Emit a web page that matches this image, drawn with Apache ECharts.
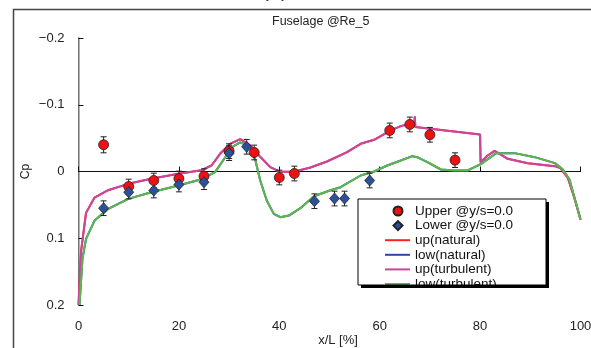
<!DOCTYPE html>
<html><head><meta charset="utf-8">
<script src="https://cdn.jsdelivr.net/npm/echarts@6/dist/echarts.min.js"></script>
<style>html,body{margin:0;padding:0;background:#fff}#c{width:591px;height:348px}</style>
</head><body><div id="c"></div>
<script>
// ---- data ----
const xTicks = [0, 20, 40, 60, 80, 100];
const yTicks = [-0.2, -0.1, 0, 0.1, 0.2];
const yTickLabels = ['\u22120.2', '\u22120.1', '0', '0.1', '0.2'];

const upperExp = [[5,-0.040],[10,0.0225],[15,0.0135],[20,0.0105],[25,0.007],[30,-0.0305],[35,-0.0285],[40,0.009],[43,0.003],[62,-0.0615],[66,-0.0705],[70,-0.055],[75,-0.017]];
const upperErr = [0.012,0.011,0.011,0.011,0.011,0.011,0.011,0.011,0.011,0.011,0.011,0.011,0.011];
const lowerExp = [[5,0.055],[10,0.031],[15,0.0285],[20,0.0195],[25,0.016],[30,-0.0275],[33.5,-0.037],[47,0.0445],[51,0.0405],[53,0.0405],[58,0.0135]];
const lowerErr = [0.011,0.010,0.011,0.011,0.011,0.011,0.011,0.011,0.011,0.011,0.011];

const upTurbulent = [[0,0.2],[0.5,0.12],[1.5,0.062],[3.2,0.039],[5.9,0.028],[9.9,0.0185],[14.5,0.011],[19.9,0.0035],[24.5,-0.002],[26.5,-0.009],[28.2,-0.0265],[30.2,-0.0415],[32.2,-0.0485],[34.2,-0.039],[36.2,-0.022],[38.2,-0.0065],[40.2,0.0005],[42.9,0.0005],[46.2,-0.006],[49.5,-0.015],[53.5,-0.029],[56.2,-0.0415],[58.9,-0.0475],[62.2,-0.0615],[64.2,-0.068],[66.2,-0.072],[66.9,-0.074],[67.0,-0.0825],[67.1,-0.0665],[80.0,-0.0555],[80.1,-0.014],[81.5,-0.024],[82.9,-0.031],[85.5,-0.019],[89.5,-0.0125],[94.9,-0.008],[96.0,-0.005],[97.5,0.01],[98.8,0.04],[100,0.072]];
const lowTurbulent = [[0.2,0.2],[0.8,0.13],[1.5,0.101],[3.2,0.0735],[5.9,0.056],[9.9,0.041],[14.5,0.031],[19.9,0.021],[24.5,0.0115],[27.2,0.001],[29.2,-0.021],[30.9,-0.038],[32.2,-0.0435],[34.2,-0.038],[35.2,-0.018],[36.2,0.0135],[37.5,0.0435],[38.9,0.0635],[40.2,0.0685],[41.9,0.066],[44.2,0.055],[46.9,0.037],[50.2,0.028],[52.2,0.0235],[56.2,0.006],[58.9,0.0],[61.5,-0.009],[64.2,-0.0165],[66.5,-0.023],[67.5,-0.0215],[69.5,-0.014],[72.2,-0.003],[74.9,-0.0015],[77.5,-0.0015],[80.2,-0.0115],[83.2,-0.0275],[86.9,-0.0275],[90.9,-0.0215],[94.9,-0.0125],[96.5,-0.003],[97.8,0.012],[98.9,0.042],[100,0.072]];
// natural-transition curves lie under the turbulent ones in the picture
const upNatural = upTurbulent;
const lowNatural = lowTurbulent;

const names = ['Upper @y/s=0.0','Lower @y/s=0.0','up(natural)','low(natural)','up(turbulent)','low(turbulent)'];
const lineColors = ['#ff2020', '#2a48a8', '#c8479c', '#5cb848'];

// ---- chart ----
const chart = echarts.init(document.getElementById('c'), null, {renderer:'canvas'});
function errItem(params, api){
  const x = api.value(0), y = api.value(1), e = api.value(2);
  const p1 = api.coord([x, y - e]), p2 = api.coord([x, y + e]);
  const w = 3, st = {stroke:'#222', lineWidth:1};
  return {type:'group', children:[
    {type:'line', shape:{x1:p1[0],y1:p1[1],x2:p2[0],y2:p2[1]}, style:st},
    {type:'line', shape:{x1:p1[0]-w,y1:p1[1],x2:p1[0]+w,y2:p1[1]}, style:st},
    {type:'line', shape:{x1:p2[0]-w,y1:p2[1],x2:p2[0]+w,y2:p2[1]}, style:st}
  ]};
}
function lineSeries(name, data, color){
  return {name, type:'line', data, symbol:'none', showSymbol:false, z:2,
    lineStyle:{color, width:2}, itemStyle:{color}, clip:true};
}
const BX = 358, BY = 199, BW = 188, BH = 86;
const ROW = 14.6, LTOP = 203.7;
const legendText = {fontSize:13.5, lineHeight:ROW, color:'#111', fontFamily:'Liberation Sans'};
chart.setOption({
  animation:false,
  textStyle:{fontFamily:'Liberation Sans', color:'#222'},
  title:{text:'Fuselage @Re_5', left:272, top:15, padding:0,
    textStyle:{fontSize:12.5, fontWeight:'normal', color:'#222', fontFamily:'Liberation Sans'}},
  grid:{left:78.5, right:10.5, top:38, bottom:43, containLabel:false, outerBoundsMode:'none'},
  legend:[
    {data:names.slice(0,2), orient:'vertical', left:392.5, top:LTOP, padding:0, itemGap:0,
      itemWidth:9, itemHeight:9, z:5, selectedMode:false,
      textStyle:Object.assign({padding:[0,0,0,7.5]}, legendText)},
    {data:names.slice(2).map((n,i)=>({name:n, icon:'rect', itemStyle:{color:lineColors[i]}})),
      orient:'vertical', left:385, top:LTOP + 2*ROW, padding:0, itemGap:0,
      itemWidth:25, itemHeight:2, z:5, selectedMode:false, textStyle:legendText}
  ],
  xAxis:[{type:'value', min:xTicks[0], max:xTicks[xTicks.length-1], interval:20,
      axisLine:{lineStyle:{color:'#111', width:1}},
      axisTick:{inside:true, length:5, lineStyle:{color:'#111'}},
      axisLabel:{margin:15, fontSize:13, color:'#222'},
      splitLine:{show:false},
      name:'x/L [%]', nameLocation:'middle', nameGap:29, nameMoveOverlap:false,
      nameTextStyle:{fontSize:13, color:'#222', padding:[0,0,0,17]}},
    {type:'value', position:'top', min:0, max:100, axisLine:{show:true, lineStyle:{color:'#111'}},
      axisTick:{show:false}, axisLabel:{show:false}, splitLine:{show:false}}],
  yAxis:[{type:'value', inverse:true, min:yTicks[0], max:yTicks[yTicks.length-1], interval:0.1,
      axisLine:{show:true, lineStyle:{color:'#111', width:1}},
      axisTick:{show:true, inside:true, length:5, lineStyle:{color:'#111'}},
      axisLabel:{margin:14, fontSize:13, color:'#222',
        formatter:v => { const i = yTicks.findIndex(t => Math.abs(t - v) < 1e-9); return i >= 0 ? yTickLabels[i] : ''; }},
      splitLine:{show:false},
      name:'Cp', nameLocation:'middle', nameGap:47, nameRotate:90, nameMoveOverlap:false,
      nameTextStyle:{fontSize:12, color:'#222'}},
    {type:'value', position:'right', inverse:true, min:-0.2, max:0.2,
      axisLine:{show:true, lineStyle:{color:'#999', width:1.5}},
      axisTick:{show:false}, axisLabel:{show:false}, splitLine:{show:false}}],
  graphic:[
    {type:'rect', shape:{x:13.5, y:9.5, width:700, height:500}, style:{fill:'none', stroke:'#444', lineWidth:1.5}, z:0, silent:true},
    {type:'text', x:275, y:-10.5, style:{text:'(a)', fontSize:22, fontFamily:'Liberation Sans', fill:'#333', align:'center', verticalAlign:'middle'}, z:0, silent:true},
    {type:'rect', shape:{x:BX+3, y:BY+3, width:BW, height:BH}, style:{fill:'#000'}, z:3, silent:true},
    {type:'rect', shape:{x:BX, y:BY, width:BW, height:BH}, style:{fill:'#fff'}, z:3, z2:1, silent:true},
    {type:'rect', shape:{x:BX-1, y:BY+BH, width:BW+6, height:12}, style:{fill:'#fff'}, z:10, silent:true},
    {type:'rect', shape:{x:BX+3, y:BY+BH, width:BW, height:3}, style:{fill:'#000'}, z:11, silent:true},
    {type:'rect', shape:{x:BX, y:BY, width:BW, height:BH}, style:{fill:'none', stroke:'#000', lineWidth:1}, z:11, silent:true}
  ],
  series:[
    lineSeries(names[2], upNatural, lineColors[0]),
    lineSeries(names[3], lowNatural, lineColors[1]),
    lineSeries(names[4], upTurbulent, lineColors[2]),
    lineSeries(names[5], lowTurbulent, lineColors[3]),
    {name:'upperErr', type:'custom', renderItem:errItem, z:3,
      data:upperExp.map((p,i)=>[p[0],p[1],upperErr[i]]), encode:{x:0,y:1}},
    {name:'lowerErr', type:'custom', renderItem:errItem, z:3,
      data:lowerExp.map((p,i)=>[p[0],p[1],lowerErr[i]]), encode:{x:0,y:1}},
    {name:names[0], type:'scatter', data:upperExp, symbol:'circle', symbolSize:10, z:4,
      itemStyle:{color:'#ee1111', borderColor:'#222', borderWidth:0.8, opacity:1}},
    {name:names[1], type:'scatter', data:lowerExp, symbol:'diamond', symbolSize:[10,11], z:4,
      itemStyle:{color:'#2e4f9c', borderColor:'#222', borderWidth:0.8, opacity:1}}
  ]
});
</script></body></html>
